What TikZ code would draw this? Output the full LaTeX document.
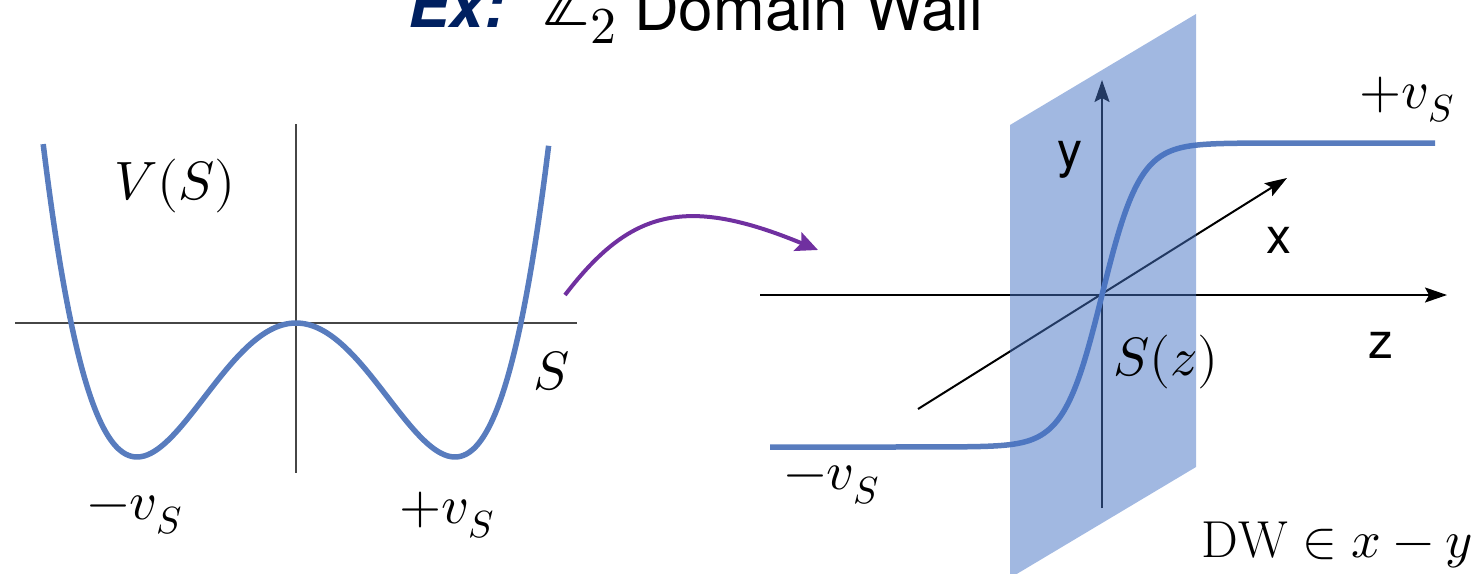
\documentclass[tikz,border=0pt]{standalone}
\usepackage{unicode-math}
\newfontfamily\hel{TeX Gyre Heros}
\usetikzlibrary{arrows.meta}
\definecolor{curveblue}{RGB}{88,124,190}
\definecolor{planeblue}{RGB}{68,114,196}
\definecolor{arrowpurple}{RGB}{112,48,160}
\definecolor{titlenavy}{RGB}{0,32,96}
\definecolor{axisgray}{RGB}{70,70,70}
\tikzset{
  curve/.style={draw=curveblue, line width=5.5pt, line cap=butt},
  thinaxis/.style={draw=axisgray, line width=1.6pt},
  axis3d/.style={draw=black, line width=2pt, -{Stealth[length=22pt,width=15pt,inset=4pt]}},
  lab/.style={inner sep=0pt, font=\fontsize{54}{60}\selectfont},
  sanslab/.style={inner sep=0pt, font=\hel\fontsize{50}{56}\selectfont},
  purplearrow/.style={draw=arrowpurple, line width=4pt, -{Stealth[length=22pt,width=20pt,inset=4pt]}},
}
\begin{document}
\begin{tikzpicture}[x=1pt,y=-1pt]
\useasboundingbox (0,0) rectangle (1478,573);
\clip (0,0) rectangle (1478,573);
% title
\node[anchor=base west, inner sep=0pt, text=titlenavy, font=\hel\bfseries\itshape\fontsize{62}{70}\selectfont] (ex) at (408,27) {Ex:};
\node[anchor=base west, inner sep=0pt, font=\fontsize{74}{80}\selectfont] (z2) at (541,25) {$\mathbb{Z}_2$};
\node[anchor=base west, inner sep=0pt, font=\hel\fontsize{62}{70}\selectfont] (dw) at (634,30) {Domain Wall};
% left plot
\coordinate (hl) at (15,323); \coordinate (hr) at (577,323);
\coordinate (vt) at (296,124); \coordinate (vb) at (296,473);
\draw[thinaxis] (hl) -- (hr);
\draw[thinaxis] (vt) -- (vb);
\draw[curve] plot[domain=-1.59:1.59, samples=161, smooth] ({296+159*\x},{323-134*(\x*\x*\x*\x-2*\x*\x)});
\node[lab] (vs) at (175,186) {$V(S)$};
\node[lab] (sl) at (552,371) {$S$};
\node[lab] (lm) at (135,515) {$-v_S$};
\node[lab] (lp) at (447,515) {$+v_S$};
% purple arrow
\coordinate (pa) at (565,295);
\coordinate (pb) at (818,250);
\draw[purplearrow] (pa) .. controls (630,210) and (685,195) .. (pb);
% right plot
\coordinate (o) at (1102,295);
\coordinate (zl) at (760,295); \coordinate (zr) at (1447,295);
\coordinate (yb) at (1102,508); \coordinate (yt) at (1102,80);
\coordinate (xb) at (918,409); \coordinate (xt) at (1287,178);
\draw[axis3d] (zl) -- (zr);
\draw[axis3d] (yb) -- (yt);
\draw[axis3d] (xb) -- (xt);
\draw[curve] plot[domain=770:1435, samples=200, smooth] ({\x},{295-152*tanh((\x-1102)/38)});
\fill[planeblue, opacity=0.5] (1010,125) -- (1196,14) -- (1196,467) -- (1010,578) -- cycle;
\node[sanslab] (ylab) at (1070,160) {y};
\node[sanslab] (xlab) at (1279,240) {x};
\node[sanslab] (zlab) at (1381,345) {z};
\node[lab] (rp) at (1407,100) {$+v_S$};
\node[lab] (rm) at (832,485) {$-v_S$};
\node[lab] (sz) at (1166,362) {$S(z)$};
\node[lab, font=\fontsize{52}{58}\selectfont] (dwin) at (1337,545) {$\mathrm{DW}\in x-y$};
\end{tikzpicture}
\end{document}
